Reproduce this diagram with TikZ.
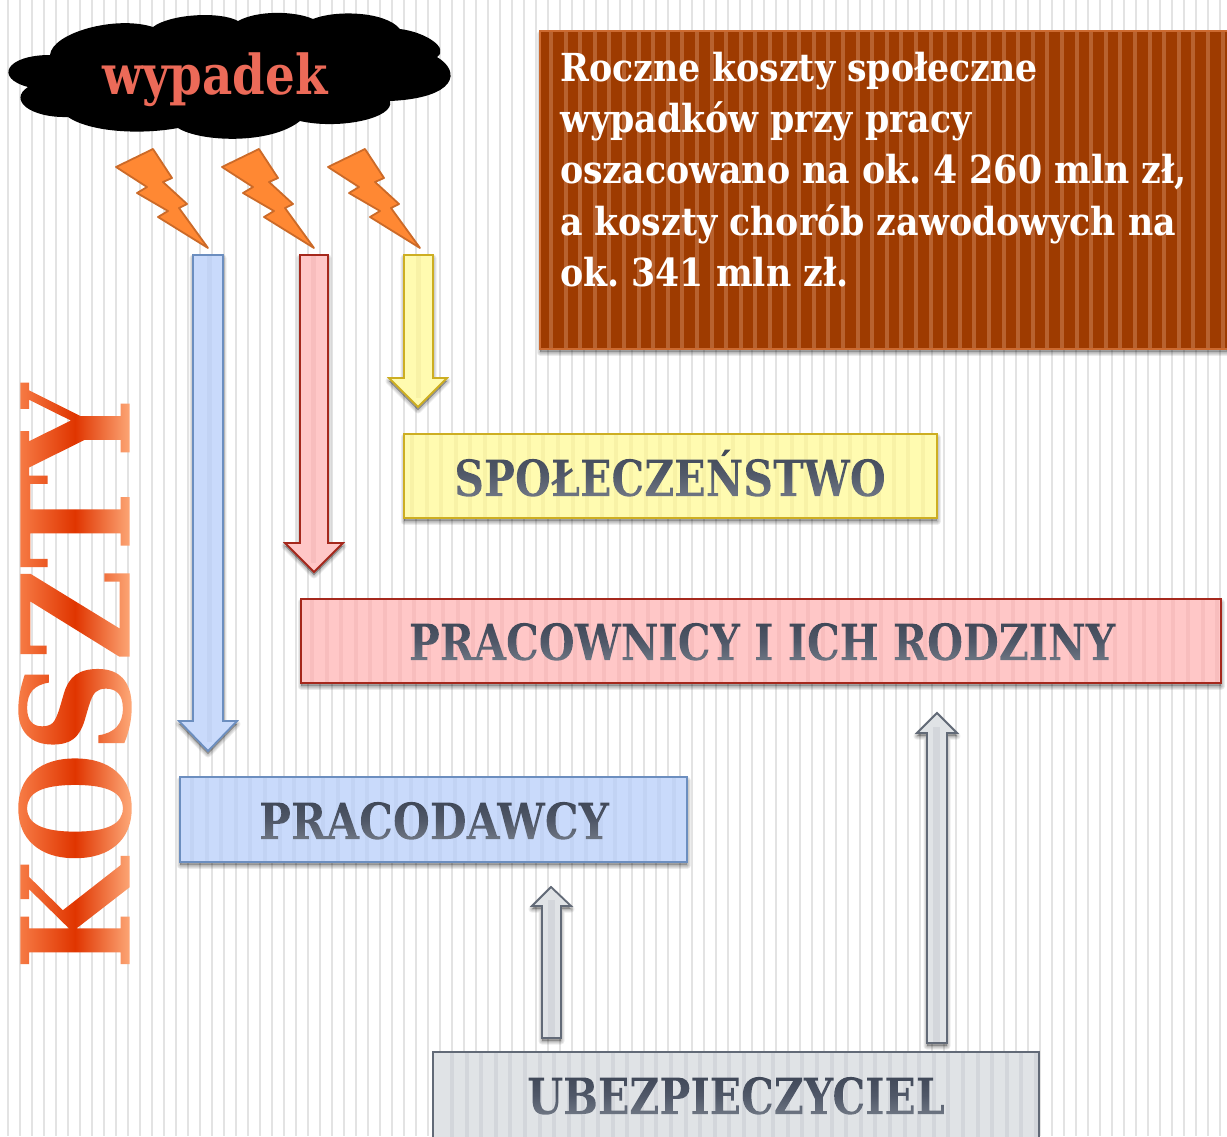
\documentclass[tikz,border=0pt]{standalone}
\usepackage{fontspec}
\setmainfont{DejaVu Serif Condensed}
\definecolor{bgline}{HTML}{E3E3E3}
\definecolor{brownf}{HTML}{9E3B00}
\definecolor{browns}{HTML}{B8622F}
\definecolor{brownl}{HTML}{CC6A30}
\definecolor{bluef}{HTML}{C9DAFB}
\definecolor{bluel}{HTML}{6C8EBF}
\definecolor{blues}{HTML}{C2D3F4}
\definecolor{pinkf}{HTML}{FFC7C7}
\definecolor{pinkl}{HTML}{A5281C}
\definecolor{pinks}{HTML}{F8BDBD}
\definecolor{yelf}{HTML}{FFFBB0}
\definecolor{yell}{HTML}{CDAE22}
\definecolor{yels}{HTML}{F8F2A6}
\definecolor{grayf}{HTML}{E0E3E6}
\definecolor{grayl}{HTML}{626A77}
\definecolor{grays}{HTML}{D3D6DB}
\definecolor{boltf}{HTML}{FF8833}
\definecolor{boltl}{HTML}{CC6A28}
\definecolor{wyp}{HTML}{EC6A58}
\definecolor{ktop}{HTML}{F8804A}
\definecolor{kmid}{HTML}{E03500}
\definecolor{kbot}{HTML}{FFB080}
\definecolor{ltop}{HTML}{3E4656}
\definecolor{lmid}{HTML}{505868}
\definecolor{lbot}{HTML}{737A87}
\newsavebox{\gtbox}
% real text used as a clip; #1 = shading options, #2 = text
\newcommand{\gradtext}[2]{%
  \sbox{\gtbox}{#2}%
  \special{pdf:code 7 Tr}\usebox{\gtbox}\special{pdf:code 0 Tr}%
  \tikz[overlay,baseline=0pt]{\shade[#1] (-\wd\gtbox-3pt,-\dp\gtbox-3pt) rectangle (3pt,\ht\gtbox+3pt);}}
\newcommand{\lab}[1]{\gradtext{top color=ltop,bottom color=lbot,middle color=lmid}{\fontsize{50}{50}\selectfont\bfseries #1}}
\tikzset{
  bgstripe/.style={fill=bgline,draw=none},
  boxlabel/.style={inner sep=0pt,anchor=base,xscale=.915,transform shape},
  edgebox/.style={line width=2.2pt,draw=#1,fill=none},
  blockfill/.style={line width=1.8pt,line join=miter},
  softshadow/.style={fill=black,draw=black,opacity=.075,line join=round},
  boltshape/.style={fill=boltf,draw=boltl,line width=1.8pt,line join=round},
}
\newcommand{\shadowed}[1]{%
  \foreach \d in {1,3,5,7}{\path[softshadow,line width=\d pt,shift={(0,3)}] #1;}}
\newcommand{\boxstripes}[6]{% x0 y0 x1 y1 color offset
  \begin{scope}
    \clip (#1,#2) rectangle (#3,#4);
    \foreach \k in {0,...,66}{\fill[#5] ({#6+14.6*\k},#2) rectangle ({#6+14.6*\k+4},#4);}
  \end{scope}}
\begin{document}
\frenchspacing
\begin{tikzpicture}[x=1pt,y=-1pt]
\useasboundingbox (0,0) rectangle (1227,1136);
\fill[white] (0,0) rectangle (1227,1136);
\foreach \k in {0,...,101}{\fill[bgstripe] ({8+12*\k-1},0) rectangle ({8+12*\k+1},1136);}

% cloud
\fill[black] (50,55) .. controls (52,33) and (115,15) .. (153,27)
  .. controls (170,14) and (220,11) .. (238,21)
  .. controls (258,10) and (295,11) .. (313,19)
  .. controls (335,10) and (385,11) .. (400,29)
  .. controls (425,32) and (450,48) .. (437,57)
  .. controls (462,72) and (456,98) .. (390,101)
  .. controls (395,118) and (340,130) .. (300,121)
  .. controls (270,145) and (200,142) .. (178,128)
  .. controls (140,135) and (90,132) .. (68,117)
  .. controls (30,118) and (8,100) .. (28,87)
  .. controls (-6,78) and (6,55) .. (50,55) -- cycle;
\node[inner sep=0pt,anchor=base,xscale=.945,transform shape,text=wyp,font=\fontsize{55}{55}\selectfont\bfseries] (wyp) at (215,94) {wypadek};

% lightning
\foreach \dx in {0,106,212}{
  \draw[boltshape,shift={(\dx,0)}] (116,167) -- (153,149) -- (172,178) -- (163,182) -- (187,204) -- (179,208) -- (208,248) -- (158,217) -- (168,211) -- (137,193) -- (147,187) -- cycle;
}

% KOSZTY
\node[inner sep=0pt,rotate=90,xscale=.94,transform shape] (koszty) at (75,677) {\gradtext{top color=ktop,bottom color=kbot,middle color=kmid}{\fontsize{150}{150}\selectfont\bfseries KOSZTY}};

% arrows
\shadowed{(193,255) -- (223,255) -- (223,721) -- (237,721) -- (208,751) -- (179,721) -- (193,721) -- cycle}
\draw[blockfill,fill=bluef,draw=bluel] (193,255) -- (223,255) -- (223,721) -- (237,721) -- (208,751) -- (179,721) -- (193,721) -- cycle;
\shadowed{(300,255) -- (328,255) -- (328,543) -- (343,543) -- (314,572) -- (285,543) -- (300,543) -- cycle}
\draw[blockfill,fill=pinkf,draw=pinkl] (300,255) -- (328,255) -- (328,543) -- (343,543) -- (314,572) -- (285,543) -- (300,543) -- cycle;
\shadowed{(404,255) -- (433,255) -- (433,378) -- (447,378) -- (418,407) -- (389,378) -- (404,378) -- cycle}
\draw[blockfill,fill=yelf,draw=yell] (404,255) -- (433,255) -- (433,378) -- (447,378) -- (418,407) -- (389,378) -- (404,378) -- cycle;
\shadowed{(542,1038) -- (561,1038) -- (561,906) -- (571,906) -- (551,887) -- (532,906) -- (542,906) -- cycle}
\draw[blockfill,fill=grayf,draw=grayl] (542,1038) -- (561,1038) -- (561,906) -- (571,906) -- (551,887) -- (532,906) -- (542,906) -- cycle;
\fill[grays] (548,900) rectangle (555,1037);
\shadowed{(927,1043) -- (947,1043) -- (947,733) -- (957,733) -- (937,713) -- (917,733) -- (927,733) -- cycle}
\draw[blockfill,fill=grayf,draw=grayl] (927,1043) -- (947,1043) -- (947,733) -- (957,733) -- (937,713) -- (917,733) -- (927,733) -- cycle;
\fill[grays] (933,727) rectangle (940,1042);
\fill[blues] (207,256) rectangle (212,742);
\fill[pinks] (311,256) rectangle (316,563);
\fill[yels] (416,256) rectangle (421,398);

% brown box
\shadowed{(540,31) rectangle (1227,349)}
\fill[brownf] (540,31) rectangle (1227,349);
\boxstripes{540}{31}{1227}{349}{browns}{549}
\draw[edgebox=brownl] (540,31) rectangle (1228,349);
\node[anchor=north west,inner sep=0pt,align=left,text=white,font=\fontsize{38.6}{51.2}\selectfont\bfseries] (info) at (560,52) {Roczne koszty społeczne\\wypadków przy pracy\\oszacowano na ok. 4 260 mln zł,\\a koszty chorób zawodowych na\\ok. 341 mln zł.};

% label boxes
\shadowed{(404,434) rectangle (937,518)}
\fill[yelf] (404,434) rectangle (937,518);
\boxstripes{404}{434}{937}{518}{yels}{410}
\draw[edgebox=yell] (404,434) rectangle (937,518);
\node[boxlabel] (spol) at (670,496) {\lab{SPOŁECZEŃSTWO}};

\shadowed{(301,599) rectangle (1221,683)}
\fill[pinkf] (301,599) rectangle (1221,683);
\boxstripes{301}{599}{1221}{683}{pinks}{310}
\draw[edgebox=pinkl] (301,599) rectangle (1221,683);
\node[boxlabel] (prac) at (762,660) {\lab{PRACOWNICY I ICH RODZINY}};

\shadowed{(180,777) rectangle (687,862)}
\fill[bluef] (180,777) rectangle (687,862);
\boxstripes{180}{777}{687}{862}{blues}{190}
\draw[edgebox=bluel] (180,777) rectangle (687,862);
\node[boxlabel,xscale=1.03] (pracd) at (434,839) {\lab{PRACODAWCY}};

\fill[grayf] (433,1052) rectangle (1039,1140);
\boxstripes{433}{1052}{1039}{1140}{grays}{450}
\draw[edgebox=grayl] (433,1052) rectangle (1039,1140);
\node[boxlabel] (ubez) at (736,1114) {\lab{UBEZPIECZYCIEL}};
\end{tikzpicture}
\end{document}
